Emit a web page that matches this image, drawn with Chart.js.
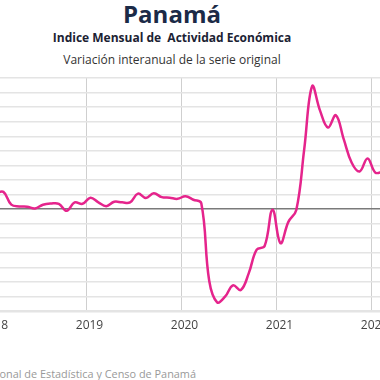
<!DOCTYPE html>
<html><head><meta charset="utf-8">
<script src="https://cdn.jsdelivr.net/npm/chart.js@4.4.0/dist/chart.umd.min.js"></script>
<style>
html,body{margin:0;padding:0;width:380px;height:380px;overflow:hidden;background:#fff;position:relative;font-family:"Open Sans",sans-serif;}
.t{position:absolute;white-space:nowrap;text-align:center;}
#t1{left:72px;width:200px;top:-3px;font-size:24px;font-weight:700;color:#1b2a47;}
#t2{left:22px;width:300px;top:29px;font-size:12px;font-weight:700;color:#1b2233;}
#t3{left:22px;width:300px;top:51px;font-size:12px;color:#333;}
#src{position:absolute;left:-504px;width:700px;text-align:right;top:366px;white-space:nowrap;font-size:10.9px;color:#999;}
#wrap{position:absolute;left:-55.8px;top:70px;width:475px;height:271px;}
</style></head>
<body>
<div class="t" id="t1">Panamá</div>
<div class="t" id="t2">Indice Mensual de&nbsp; Actividad Económica</div>
<div class="t" id="t3">Variación interanual de la serie original</div>
<div id="src">Fuente: Instituto Nacional de Estadística y Censo de Panamá</div>
<div id="wrap"><canvas id="c"></canvas></div>
<script>
const months = ["2018-01","2018-02","2018-03","2018-04","2018-05","2018-06","2018-07","2018-08","2018-09","2018-10","2018-11","2018-12",
"2019-01","2019-02","2019-03","2019-04","2019-05","2019-06","2019-07","2019-08","2019-09","2019-10","2019-11","2019-12",
"2020-01","2020-02","2020-03","2020-04","2020-05","2020-06","2020-07","2020-08","2020-09","2020-10","2020-11","2020-12",
"2021-01","2021-02","2021-03","2021-04","2021-05","2021-06","2021-07","2021-08","2021-09","2021-10","2021-11","2021-12",
"2022-01","2022-02"];
const variacion = [5.3,5.9,1.5,0.9,0.8,0.2,1.5,1.9,1.8,-0.6,2.3,1.8,
3.9,2.3,1.0,2.5,2.3,2.3,5.3,3.8,5.4,4.1,3.9,3.5,
4.4,3.2,2.0,-24.6,-32.0,-30.1,-26.2,-27.8,-22.0,-13.9,-12.7,-0.2,
-11.7,-4.4,-0.3,20.5,42.2,33.8,28.0,32.2,23.9,15.9,12.9,17.4,
12.5,13.0];
const yearTicks = [2018,2019,2020,2021,2022];
const yMin = -35, yMax = 45, yStep = 5;

const points = months.map((m,i)=>{
  const [y,mo] = m.split("-").map(Number);
  return {x: y + (mo-0.5)/12, y: variacion[i]};
});

new Chart(document.getElementById('c'), {
  type:'line',
  data:{datasets:[{data:points,borderColor:'#e5248c',borderWidth:2.5,pointRadius:0,tension:0.4,fill:false}]},
  options:{
    responsive:true,maintainAspectRatio:false,animation:false,
    layout:{padding:{top:8,left:0,right:0,bottom:0}},
    plugins:{legend:{display:false},tooltip:{enabled:false}},
    scales:{
      x:{type:'linear',min:2017.5,max:2022.5,
        afterBuildTicks:(s)=>{s.ticks = yearTicks.map(v=>({value:v}));},
        afterFit:(s)=>{s.height=30;},
        grid:{color:'#cfcfcf',lineWidth:1,drawTicks:false},
        border:{display:false},
        ticks:{padding:7,labelOffset:3,color:'#444',font:{family:'Open Sans',size:12},callback:(v)=>String(v)}
      },
      y:{min:yMin,max:yMax,
        afterFit:(s)=>{s.width=0;},
        ticks:{display:false,stepSize:yStep},
        border:{display:false},
        grid:{drawTicks:false,
          color:(c)=>c.tick && c.tick.value===0 ? '#7a7a7a' : '#e4e4e4',
          lineWidth:(c)=>c.tick && c.tick.value===yMin ? 2.5 : 1.5}
      }
    }
  }
});
</script>
</body></html>
